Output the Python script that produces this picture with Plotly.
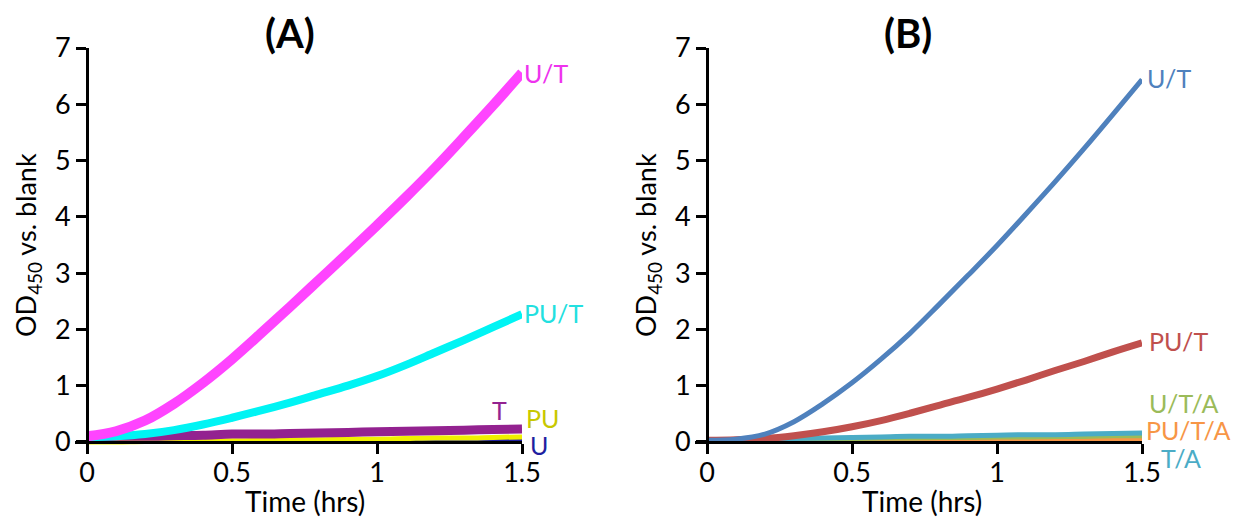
import plotly.graph_objects as go

# ---------------- data ----------------
time_hrs = [0.0, 0.1, 0.2, 0.3, 0.4, 0.5, 0.6, 0.7, 0.8, 0.9, 1.0, 1.1, 1.2, 1.3, 1.4, 1.5]

# Panel A
a_names = ["U", "PU", "T", "PU/T", "U/T"]
a_U = [0.00, 0.00, 0.00, 0.01, 0.01, 0.01, 0.01, 0.01, 0.01, 0.02, 0.02, 0.02, 0.02, 0.02, 0.03, 0.03]
a_PU = [0.00, 0.00, 0.01, 0.01, 0.02, 0.02, 0.03, 0.04, 0.04, 0.05, 0.05, 0.06, 0.07, 0.07, 0.08, 0.09]
a_T = [0.08, 0.10, 0.10, 0.11, 0.12, 0.14, 0.14, 0.15, 0.16, 0.17, 0.18, 0.19, 0.20, 0.21, 0.22, 0.23]
a_PUT = [0.08, 0.10, 0.14, 0.21, 0.31, 0.43, 0.56, 0.70, 0.85, 1.00, 1.17, 1.37, 1.59, 1.81, 2.04, 2.27]
a_UT = [0.10, 0.19, 0.38, 0.68, 1.05, 1.47, 1.93, 2.40, 2.88, 3.36, 3.85, 4.35, 4.87, 5.42, 5.98, 6.56]

# Panel B
b_names = ["PU/T/A", "U/T/A", "T/A", "PU/T", "U/T"]
b_PUTA = [0.03, 0.03, 0.03, 0.03, 0.03, 0.04, 0.04, 0.04, 0.04, 0.04, 0.04, 0.05, 0.05, 0.05, 0.05, 0.05]
b_UTA = [0.03, 0.03, 0.04, 0.04, 0.05, 0.05, 0.06, 0.06, 0.07, 0.07, 0.08, 0.08, 0.09, 0.09, 0.10, 0.10]
b_TA = [0.03, 0.04, 0.05, 0.06, 0.07, 0.08, 0.09, 0.10, 0.10, 0.11, 0.12, 0.13, 0.13, 0.14, 0.15, 0.16]
b_PUT = [0.03, 0.04, 0.06, 0.11, 0.18, 0.27, 0.38, 0.51, 0.65, 0.79, 0.94, 1.10, 1.27, 1.43, 1.60, 1.76]
b_UT = [0.03, 0.05, 0.14, 0.36, 0.68, 1.05, 1.47, 1.93, 2.44, 2.96, 3.49, 4.05, 4.62, 5.21, 5.82, 6.44]

x_ticks = [0, 0.5, 1, 1.5]
x_ticklabels = ["0", "0.5", "1", "1.5"]
y_ticks = [0, 1, 2, 3, 4, 5, 6, 7]

# ---------------- styles ----------------
FONT = "Lato, 'Open Sans', sans-serif"
a_colors = ["#1f1fa0", "#f0f000", "#932290", "#00f4f4", "#ff44ff"]
a_label_colors = ["#1f1fa0", "#c8c800", "#932290", "#22e0e0", "#ee33ee"]
a_widths = [4, 5, 9, 8, 10]
b_colors = ["#f79646", "#9bbb59", "#4bacc6", "#c0504d", "#4f81bd"]
b_widths = [4, 4, 5, 7, 5]

fig = go.Figure()

a_series = [a_U, a_PU, a_T, a_PUT, a_UT]
b_series = [b_PUTA, b_UTA, b_TA, b_PUT, b_UT]

for name, ys, c, w in zip(a_names, a_series, a_colors, a_widths):
    fig.add_trace(go.Scatter(x=time_hrs, y=ys, mode="lines", name=name,
                             line=dict(color=c, width=w, shape="spline", smoothing=1.0),
                             xaxis="x", yaxis="y", showlegend=False))
for name, ys, c, w in zip(b_names, b_series, b_colors, b_widths):
    fig.add_trace(go.Scatter(x=time_hrs, y=ys, mode="lines", name=name,
                             line=dict(color=c, width=w, shape="spline", smoothing=1.0),
                             xaxis="x2", yaxis="y2", showlegend=False))

W, H = 1250, 523
OFF = 8  # page body margin
# pixel geometry (page pixels -> figure pixels)
ax_left_A, x0_A, x15_A = 75.4 - OFF, 87.0 - OFF, 522.0 - OFF
ax_left_B, x0_B, x15_B = 695.4 - OFF, 707.0 - OFF, 1142.0 - OFF
y_top_px, y0_px, y_bot_px = 48.0 - OFF, 442.0 - OFF, 453.2 - OFF

ydom = [(H - y_bot_px) / H, (H - y_top_px) / H]
xaxis_pos = (H - y0_px) / H

axis_common = dict(showline=True, linecolor="black", linewidth=3,
                   ticks="outside", ticklen=10, tickwidth=3, tickcolor="black",
                   showgrid=False, zeroline=False, automargin=False,
                   tickfont=dict(family=FONT, size=27, color="black"))

fig.update_layout(
    template="none",
    width=W, height=H,
    margin=dict(l=0, r=0, t=0, b=0, pad=0),
    paper_bgcolor="white", plot_bgcolor="white",
    xaxis=dict(domain=[ax_left_A / W, x15_A / W], range=[-0.04, 1.5],
               anchor="free", position=xaxis_pos, ticklabelstandoff=-4,
               tickvals=x_ticks, ticktext=x_ticklabels, **axis_common),
    yaxis=dict(domain=ydom, range=[-0.2, 7], anchor="free", position=x0_A / W,
               tickvals=y_ticks, **axis_common),
    xaxis2=dict(domain=[ax_left_B / W, x15_B / W], range=[-0.04, 1.5],
                anchor="free", position=xaxis_pos, ticklabelstandoff=-4,
                tickvals=x_ticks, ticktext=x_ticklabels, **axis_common),
    yaxis2=dict(domain=ydom, range=[-0.2, 7], anchor="free", position=x0_B / W,
                tickvals=y_ticks, **axis_common),
)

def px_x(p):
    return (p - OFF) / W

def px_y(p):
    return (H - (p - OFF)) / H

ann = []
# panel titles
for txt, xc in (("<b>(A)</b>", 290), ("<b>(B)</b>", 908)):
    ann.append(dict(text=txt, x=px_x(xc), y=px_y(33), xref="paper", yref="paper",
                    xanchor="center", yanchor="middle", showarrow=False,
                    font=dict(family=FONT, size=40, color="black")))
# axis titles
for xc in (305, 922):
    ann.append(dict(text="Time (hrs)", x=px_x(xc), y=px_y(501), xref="paper", yref="paper",
                    xanchor="center", yanchor="middle", showarrow=False,
                    font=dict(family=FONT, size=28, color="black")))
for xc in (28, 648):
    ann.append(dict(text="OD<sub>450</sub> vs. blank", x=px_x(xc), y=px_y(245),
                    xref="paper", yref="paper", xanchor="center", yanchor="middle",
                    textangle=-90, showarrow=False,
                    font=dict(family=FONT, size=27, color="black")))

# series labels (panel A)
a_label_pos = {"U/T": (1.5, 6.55, 0, 0), "PU/T": (1.5, 2.29, 0, 0),
               "T": (1.39, 0.57, 0, 0), "PU": (1.5, 0.43, 2, 0), "U": (1.5, -0.05, 6, 0)}
for name, col in zip(a_names, a_label_colors):
    x, y, dx, dy = a_label_pos[name]
    ann.append(dict(text=name, x=x, y=y, xref="x", yref="y", xanchor="left", yanchor="middle",
                    xshift=dx, yshift=dy, showarrow=False,
                    font=dict(family=FONT, size=25, color=col)))
b_label_pos = {"U/T": (1.5, 6.46, 3, 0), "PU/T": (1.5, 1.79, 5, 0),
               "U/T/A": (1.5, 0.70, 5, 0), "PU/T/A": (1.5, 0.21, 2, 0), "T/A": (1.5, -0.1, 17, -10)}
for name, col in zip(b_names, b_colors):
    x, y, dx, dy = b_label_pos[name]
    ann.append(dict(text=name, x=x, y=y, xref="x2", yref="y2", xanchor="left", yanchor="middle",
                    xshift=dx, yshift=dy, showarrow=False,
                    font=dict(family=FONT, size=25, color=col)))

fig.update_layout(annotations=ann)
fig.write_html("out.html")
